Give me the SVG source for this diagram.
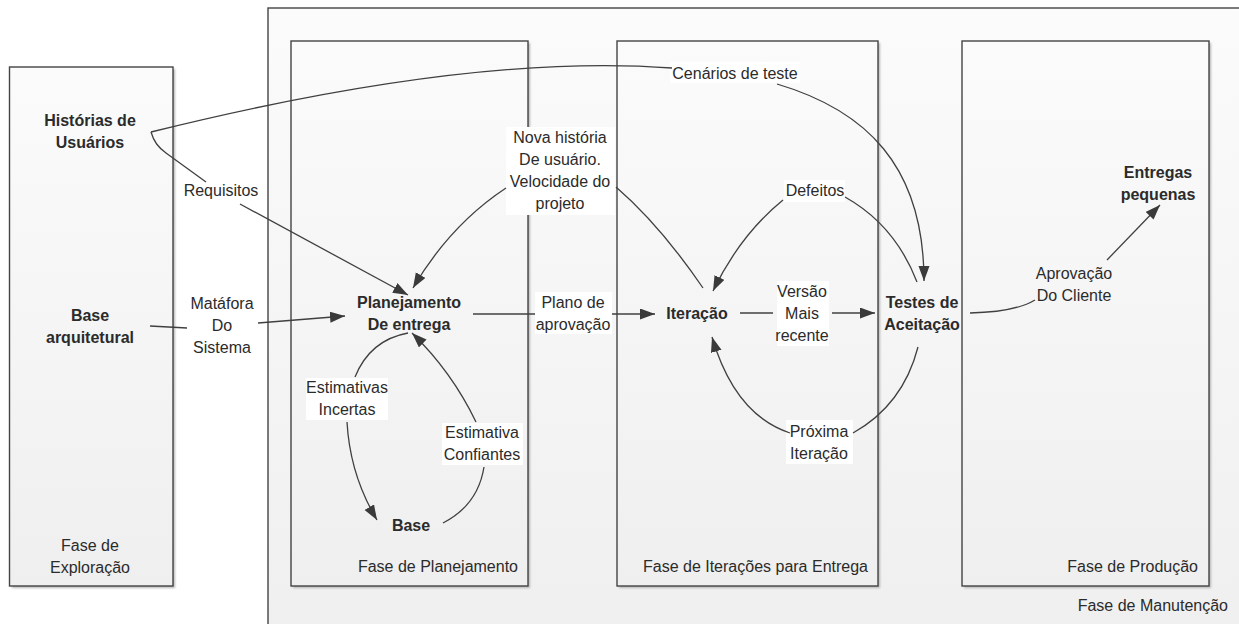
<svg xmlns="http://www.w3.org/2000/svg" width="1239" height="624" viewBox="0 0 1239 624">
  <defs>
    <linearGradient id="boxFill" x1="0" y1="0" x2="0" y2="1">
      <stop offset="0" stop-color="#fbfbfb"/>
      <stop offset="1" stop-color="#efefef"/>
    </linearGradient>
    <filter id="soft" x="-5%" y="-5%" width="110%" height="110%">
      <feGaussianBlur stdDeviation="1.2"/>
    </filter>
    <marker id="arrow" markerUnits="userSpaceOnUse" markerWidth="16" markerHeight="12" refX="15" refY="5.5" orient="auto">
      <path d="M0,0 L15,5.5 L0,11 Z" fill="#3a3a3a"/>
    </marker>
    <style>
      .phase { fill: url(#boxFill); stroke: #444; stroke-width: 1.4; }
      .shadow { fill: #b5b5b5; filter: url(#soft); }
      .t { font-family: "Liberation Sans", Arial, sans-serif; font-size: 16px; fill: #2b2b2b; }
      .b { font-weight: bold; }
      .m { text-anchor: middle; }
      .e { text-anchor: end; }
      .bg { fill: #ffffff; }
      .c { fill: none; stroke: #404040; stroke-width: 1.3; }
      .a { marker-end: url(#arrow); }
    </style>
  </defs>

  <rect width="1239" height="624" fill="#ffffff"/>

  <!-- phase containers -->
  <g id="fase-manutencao">
    <rect class="phase" x="268" y="8" width="1010" height="640"/>
    <text class="t e" x="1228" y="611">Fase de Manutenção</text>
  </g>
  <g id="fase-exploracao">
    <rect class="shadow" x="12" y="69" width="163" height="519"/>
    <rect class="phase" x="9.5" y="67" width="163.5" height="519"/>
    <text class="t m" x="90" y="551">Fase de</text>
    <text class="t m" x="90" y="573">Exploração</text>
  </g>
  <g id="fase-planejamento">
    <rect class="shadow" x="293" y="43" width="237" height="545"/>
    <rect class="phase" x="291" y="41" width="237" height="545"/>
    <text class="t e" x="518" y="572">Fase de Planejamento</text>
  </g>
  <g id="fase-iteracoes">
    <rect class="shadow" x="619" y="43" width="261" height="545"/>
    <rect class="phase" x="617" y="41" width="261" height="545"/>
    <text class="t e" x="868" y="572">Fase de Iterações para Entrega</text>
  </g>
  <g id="fase-producao">
    <rect class="shadow" x="964" y="43" width="247" height="545"/>
    <rect class="phase" x="962" y="41" width="247" height="545"/>
    <text class="t e" x="1198" y="572">Fase de Produção</text>
  </g>

  <!-- label backgrounds -->
  <g id="label-backgrounds">
    <rect class="bg" x="506" y="127" width="109" height="88"/>
    <rect class="bg" x="535" y="292" width="77" height="42"/>
    <rect class="bg" x="306" y="378" width="82" height="42"/>
    <rect class="bg" x="442" y="423" width="81" height="42"/>
    <rect class="bg" x="777" y="281" width="52" height="65"/>
    <rect class="bg" x="786" y="420" width="67" height="44"/>
    <rect class="bg" x="670" y="62" width="130" height="21"/>
    <rect class="bg" x="784" y="180" width="61" height="22"/>
  </g>

  <!-- connectors -->
  <g id="connectors">
    <path class="c" d="M151,132 C300,95 500,55 672,68"/>
    <path class="c a" d="M777,84 C865,110 924,165 924,281"/>
    <path class="c" d="M151,132 C154,142 158,147 166,153 L206,182"/>
    <path class="c a" d="M240,204 L408,295"/>
    <path class="c" d="M150,326 L187,328"/>
    <path class="c a" d="M258,323 L345,316"/>
    <path class="c a" d="M506,188 Q450,225 413,288"/>
    <path class="c" d="M703,288 Q660,225 616,187"/>
    <path class="c" d="M917,282 Q895,225 845,197"/>
    <path class="c a" d="M783,200 Q740,235 713,291"/>
    <path class="c" d="M473,314 L535,314"/>
    <path class="c a" d="M612,314 L655,314"/>
    <path class="c" d="M740,313 L773,313"/>
    <path class="c a" d="M832,313 L875,313"/>
    <path class="c" d="M918,347 Q903,405 853,433"/>
    <path class="c a" d="M790,433 Q735,415 712,337"/>
    <path class="c" d="M408,333 Q370,340 355,377"/>
    <path class="c a" d="M347,422 Q350,475 377,520"/>
    <path class="c" d="M443,523 Q478,505 484,467"/>
    <path class="c a" d="M476,422 Q452,372 412,333"/>
    <path class="c" d="M970,313 Q1015,312 1035,300"/>
    <path class="c a" d="M1107,260 L1160,205"/>
  </g>

  <!-- connector labels -->
  <g id="labels">
    <text class="t m" x="735" y="79">Cenários de teste</text>
    <text class="t m" x="221" y="196">Requisitos</text>
    <text class="t m" x="222" y="309">Matáfora</text>
    <text class="t m" x="222" y="331">Do</text>
    <text class="t m" x="222" y="353">Sistema</text>
    <text class="t m" x="560" y="143">Nova história</text>
    <text class="t m" x="560" y="165">De usuário.</text>
    <text class="t m" x="560" y="187">Velocidade do</text>
    <text class="t m" x="560" y="209">projeto</text>
    <text class="t m" x="815" y="196">Defeitos</text>
    <text class="t m" x="573" y="308">Plano de</text>
    <text class="t m" x="573" y="330">aprovação</text>
    <text class="t m" x="802" y="297">Versão</text>
    <text class="t m" x="802" y="319">Mais</text>
    <text class="t m" x="802" y="341">recente</text>
    <text class="t m" x="819" y="437">Próxima</text>
    <text class="t m" x="819" y="459">Iteração</text>
    <text class="t m" x="347" y="393">Estimativas</text>
    <text class="t m" x="347" y="415">Incertas</text>
    <text class="t m" x="482" y="438">Estimativa</text>
    <text class="t m" x="482" y="460">Confiantes</text>
    <text class="t m" x="1074" y="279">Aprovação</text>
    <text class="t m" x="1074" y="301">Do Cliente</text>
  </g>

  <!-- nodes -->
  <g id="historias-usuarios">
    <text class="t b m" x="90" y="126">Histórias de</text>
    <text class="t b m" x="90" y="148">Usuários</text>
  </g>
  <g id="base-arquitetural">
    <text class="t b m" x="90" y="321">Base</text>
    <text class="t b m" x="90" y="343">arquitetural</text>
  </g>
  <g id="planejamento-entrega">
    <text class="t b m" x="409" y="308">Planejamento</text>
    <text class="t b m" x="409" y="330">De entrega</text>
  </g>
  <g id="base">
    <text class="t b m" x="411" y="531">Base</text>
  </g>
  <g id="iteracao">
    <text class="t b m" x="697" y="319">Iteração</text>
  </g>
  <g id="testes-aceitacao">
    <text class="t b m" x="922" y="308">Testes de</text>
    <text class="t b m" x="922" y="330">Aceitação</text>
  </g>
  <g id="entregas-pequenas">
    <text class="t b m" x="1158" y="178">Entregas</text>
    <text class="t b m" x="1158" y="200">pequenas</text>
  </g>
</svg>
